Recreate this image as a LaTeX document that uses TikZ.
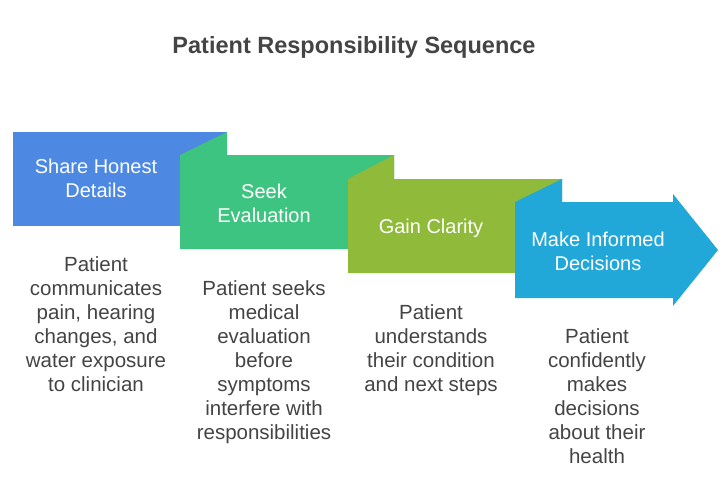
\documentclass[tikz,border=0pt]{standalone}
\usepackage{fontspec}
\setmainfont{Liberation Sans}
\usepackage{tikz}
\usetikzlibrary{positioning}
\definecolor{shareblue}{HTML}{4D88E2}
\definecolor{seekgreen}{HTML}{3EC481}
\definecolor{clarityolive}{HTML}{8FBA3A}
\definecolor{decidecyan}{HTML}{22A8D8}
\definecolor{inkgray}{HTML}{444444}
\tikzset{
  seqtitle/.style={text=inkgray, anchor=base, inner sep=0pt, font=\fontsize{23.5}{28}\selectfont\bfseries},
  steplabel/.style={text=white, align=center, inner sep=0pt, font=\fontsize{20}{24}\selectfont},
  stepnote/.style={text=inkgray, align=center, anchor=north, inner sep=0pt, font=\fontsize{20.5}{24}\selectfont},
}

\begin{document}
\begin{tikzpicture}[x=1pt,y=-1pt]
\useasboundingbox (0,0) rectangle (727,487);
\node [seqtitle] (title) at (354,53) {Patient Responsibility Sequence};
\fill [shareblue] (13,132) rectangle (227,226);
\foreach\px/\py/\xx/\yy/\col in {13/132/180/155/seekgreen,180/155/348/179/clarityolive}
  \fill [\col] (\xx,\yy) -- (\px+214,\py) -- (\px+214,\yy) -- (\xx+214,\yy) -- (\xx+214,\yy+94) -- (\xx,\yy+94) -- cycle;
\fill [decidecyan] (515,202) -- (562,179) -- (562,202) -- (673,202) -- (673,194) -- (718,250) -- (673,306) -- (673,298) -- (515,298) -- cycle;
\node [steplabel] (share) at (96,178) {Share Honest\\Details};
\node [steplabel] (seek) at (264,203) {Seek\\Evaluation};
\node [steplabel] (clarity) at (431,228) {Gain Clarity};
\node [steplabel] (decide) at (598,251) {Make Informed\\Decisions};
\node [stepnote] (sharenote) at (96,256) {Patient\\communicates\\pain, hearing\\changes, and\\water exposure\\to clinician};
\node [stepnote] (seeknote) at (264,280) {Patient seeks\\medical\\evaluation\\before\\symptoms\\interfere with\\responsibilities};
\node [stepnote] (claritynote) at (431,304) {Patient\\understands\\their condition\\and next steps};
\node [stepnote] (decidenote) at (597,328) {Patient\\confidently\\makes\\decisions\\about their\\health};
\end{tikzpicture}
\end{document}
